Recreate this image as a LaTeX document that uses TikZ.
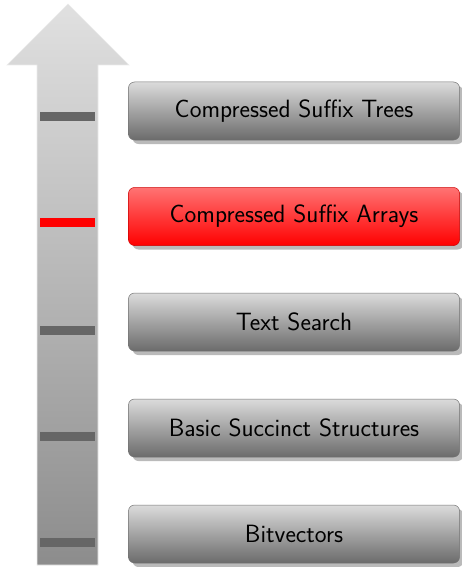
\documentclass[tikz,border=0pt]{standalone}
\usetikzlibrary{shadows}
\begin{document}
\begin{tikzpicture}[x=1pt,y=-1pt,
  layerbox/.style={draw=gray!90!black, line width=0.5pt, rounded corners=6pt,
    minimum width=331pt, minimum height=58pt, inner sep=0pt,
    top color=black!14, bottom color=black!58,
    drop shadow={shadow xshift=4pt, shadow yshift=-4pt, fill=black!45, opacity=0.6},
    font=\sffamily\fontsize{25}{30}\selectfont},
  redbox/.style={layerbox, draw=red!80!black, top color=red!55!white, bottom color=red},
  marker/.style={fill=black!60, draw=none, minimum width=55pt, minimum height=9pt, inner sep=0pt},
  redmarker/.style={marker, fill=red}]
\useasboundingbox (0,0) rectangle (461,567);
% arrow
\shade[top color=black!12, bottom color=black!45, draw=black!8, line width=0.6pt]
  (68,4) -- (129,65) -- (98,65) -- (98,565) -- (37,565) -- (37,65) -- (7,65) -- cycle;
% markers
\node[marker] (m1) at (67.5,117) {};
\node[redmarker] (m2) at (67.5,222) {};
\node[marker] (m3) at (67.5,330) {};
\node[marker] (m4) at (67.5,436) {};
\node[marker] (m5) at (67.5,542) {};
% boxes
\node[layerbox] (b1) at (294,111) {Compressed Suffix Trees};
\node[redbox] (b2) at (294,216.5) {Compressed Suffix Arrays};
\node[layerbox] (b3) at (294,322) {Text Search};
\node[layerbox] (b4) at (294,428) {Basic Succinct Structures};
\node[layerbox] (b5) at (294,534) {Bitvectors};
\end{tikzpicture}
\end{document}
